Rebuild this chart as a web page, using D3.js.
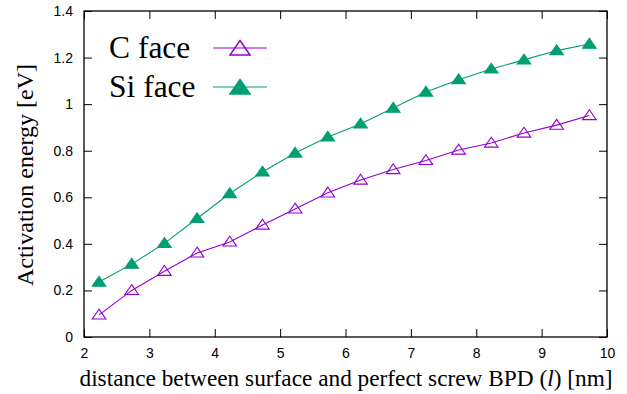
<!DOCTYPE html>
<meta charset="utf-8">
<script src="https://d3js.org/d3.v7.min.js"></script>
<style>
  body { margin: 0; background: #fff; }
  .tick text { font-family: "Liberation Sans", Arial, sans-serif; font-size: 14px; fill: #000; }
  .lbl { font-family: "Liberation Serif", "Times New Roman", serif; fill: #000; }
</style>
<div id="my_dataviz"></div>
<script>

// distance (nm)
var distance = [2.23, 2.73, 3.23, 3.73, 4.23, 4.73, 5.23, 5.73, 6.23, 6.73, 7.23, 7.73, 8.23, 8.73, 9.23, 9.73];
// activation energies (eV)
var cFace  = [0.095, 0.200, 0.282, 0.361, 0.408, 0.481, 0.550, 0.619, 0.674, 0.719, 0.758, 0.803, 0.833, 0.876, 0.910, 0.951];
var siFace = [0.236, 0.313, 0.402, 0.509, 0.616, 0.709, 0.790, 0.859, 0.915, 0.983, 1.052, 1.105, 1.151, 1.190, 1.230, 1.258];

var xTicks = [2, 3, 4, 5, 6, 7, 8, 9, 10];
var yTicks = [0, 0.2, 0.4, 0.6, 0.8, 1, 1.2, 1.4];

var series = [
  {name: "C face",  values: cFace,  color: "#9400d3", filled: false},
  {name: "Si face", values: siFace, color: "#009e73", filled: true}
];

var margin = {top: 11, right: 20, bottom: 57, left: 84},
  width = 627 - margin.left - margin.right,
  height = 394 - margin.top - margin.bottom;

var svg = d3.select("#my_dataviz")
  .append("svg")
    .attr("width", 627)
    .attr("height", 394)
  .append("g")
    .attr("transform", "translate(" + margin.left + "," + margin.top + ")");

var x = d3.scaleLinear().domain([2, 10]).range([0, width]);
var y = d3.scaleLinear().domain([0, 1.4]).range([height, 0]);

// axes, ticks point inward (gnuplot style) and mirrored on top/right
var fmt = function(d){ return d3.format("")(+d.toFixed(1)); };

svg.append("g")
  .attr("transform", "translate(0," + height + ")")
  .call(d3.axisBottom(x).tickValues(xTicks).tickSizeInner(-8).tickSizeOuter(0).tickPadding(11).tickFormat(fmt));
svg.append("g")
  .call(d3.axisTop(x).tickValues(xTicks).tickSizeInner(-8).tickSizeOuter(0).tickFormat(""));
svg.append("g")
  .call(d3.axisLeft(y).tickValues(yTicks).tickSizeInner(-8).tickSizeOuter(0).tickPadding(11).tickFormat(fmt));
svg.append("g")
  .attr("transform", "translate(" + width + ",0)")
  .call(d3.axisRight(y).tickValues(yTicks).tickSizeInner(-8).tickSizeOuter(0).tickFormat(""));

svg.selectAll(".domain").remove();
svg.selectAll(".tick line").attr("stroke", "#000");

// frame
svg.append("rect")
  .attr("width", width).attr("height", height)
  .attr("fill", "none").attr("stroke", "#000").attr("stroke-width", 1.3);

// triangle marker path centered at (0,0)
function tri(s) {
  return "M0," + (-s * 0.85) + "L" + s + "," + (s * 0.6) + "L" + (-s) + "," + (s * 0.6) + "Z";
}

var line = d3.line()
  .x(function(d, i){ return x(distance[i]); })
  .y(function(d){ return y(d); });

series.forEach(function(s) {
  svg.append("path")
    .datum(s.values)
    .attr("d", line)
    .attr("fill", "none")
    .attr("stroke", s.color)
    .attr("stroke-width", 1.1);

  svg.selectAll(null)
    .data(s.values)
    .enter()
    .append("path")
      .attr("d", tri(6.8))
      .attr("transform", function(d, i){ return "translate(" + x(distance[i]) + "," + y(d) + ")"; })
      .attr("fill", s.filled ? s.color : "none")
      .attr("stroke", s.color)
      .attr("stroke-width", 1.1);
});

// legend
var legend = svg.append("g");
series.forEach(function(s, i) {
  var ly = 37 + i * 39;
  legend.append("text")
    .attr("class", "lbl")
    .attr("x", 109 - margin.left).attr("y", ly + 10)
    .style("font-size", "31.5px")
    .text(s.name);
  legend.append("line")
    .attr("x1", 213 - margin.left).attr("x2", 267 - margin.left)
    .attr("y1", ly).attr("y2", ly)
    .attr("stroke", s.color).attr("stroke-width", 1.2);
  legend.append("path")
    .attr("d", tri(10))
    .attr("transform", "translate(" + (240 - margin.left) + "," + (ly + 1) + ")")
    .attr("fill", s.filled ? s.color : "none")
    .attr("stroke", s.color)
    .attr("stroke-width", 1.5);
});

// axis titles
svg.append("text")
  .attr("class", "lbl")
  .attr("x", 346 - margin.left).attr("y", height + 49)
  .attr("text-anchor", "middle")
  .style("font-size", "23.3px")
  .html('distance between surface and perfect screw BPD (<tspan font-style="italic">l</tspan>) [nm]');

svg.append("text")
  .attr("class", "lbl")
  .attr("transform", "translate(" + (33 - margin.left) + "," + (175 - margin.top) + ")rotate(-90)")
  .attr("text-anchor", "middle")
  .style("font-size", "24px")
  .text("Activation energy [eV]");

</script>
